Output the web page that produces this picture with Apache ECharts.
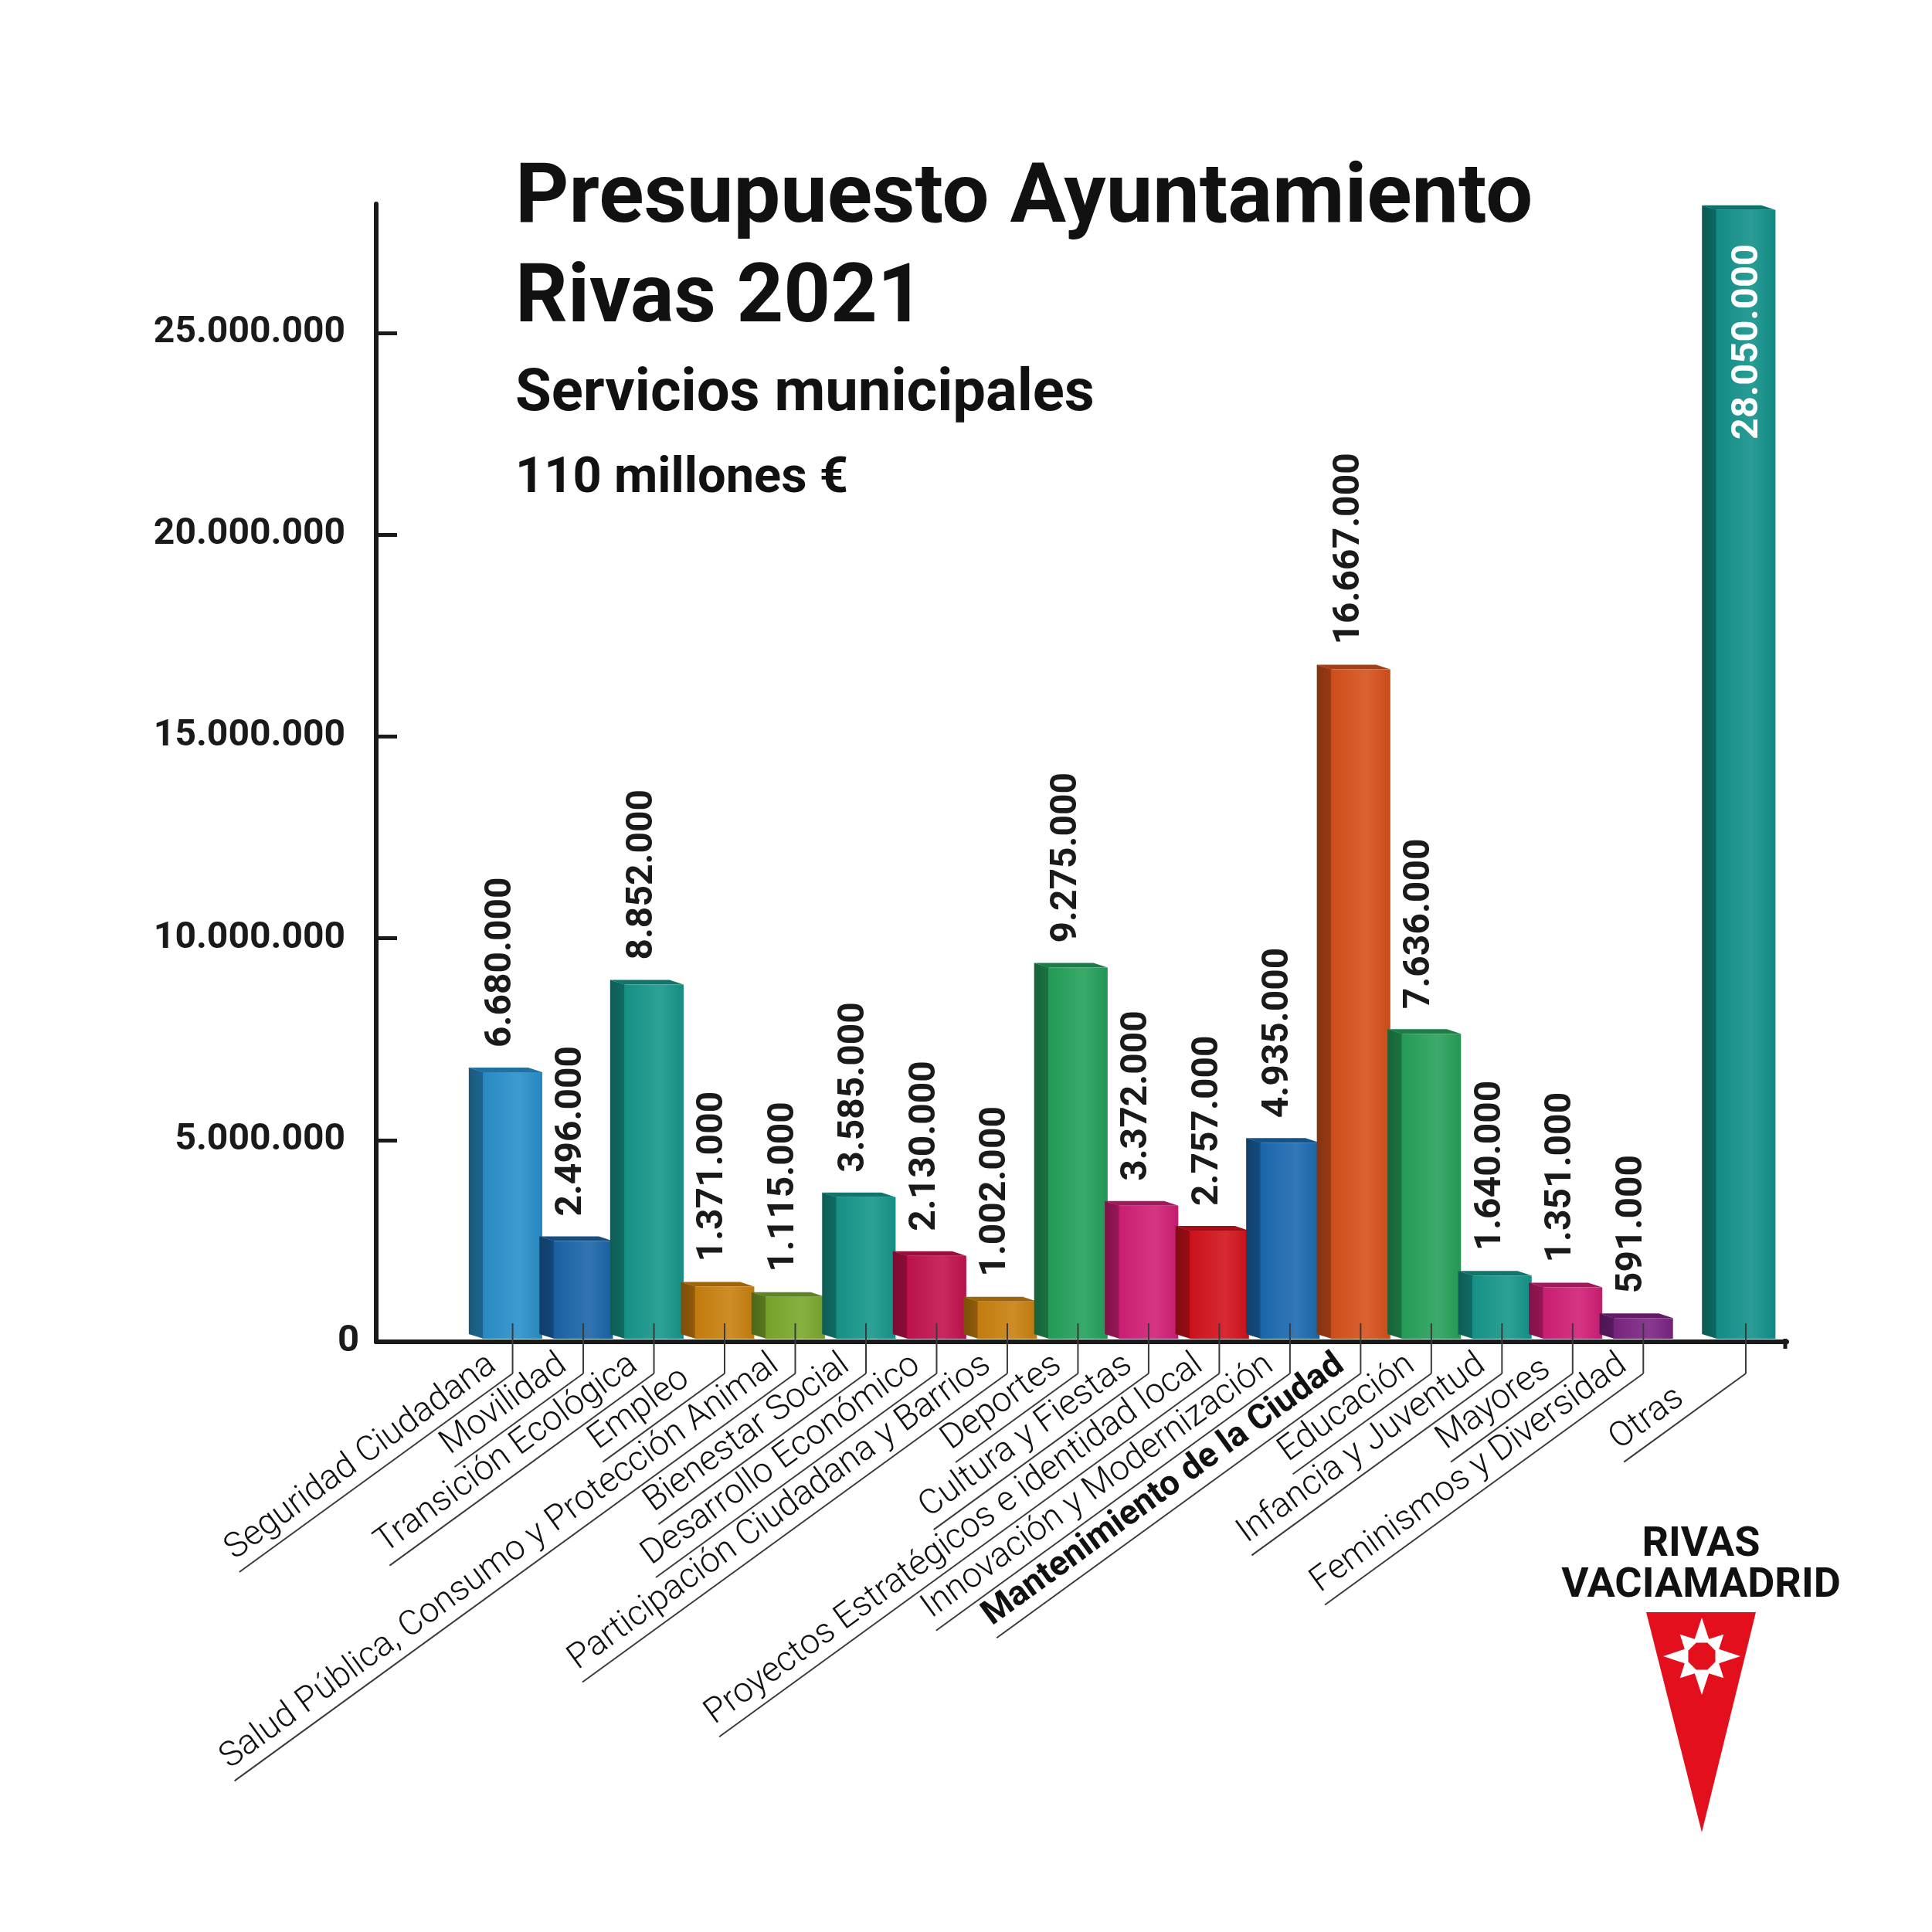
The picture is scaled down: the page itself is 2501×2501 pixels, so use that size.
<!DOCTYPE html>
<html>
<head>
<meta charset="utf-8">
<title>Presupuesto Ayuntamiento Rivas 2021</title>
<script src="https://cdn.jsdelivr.net/npm/echarts@6/dist/echarts.min.js"></script>
<style>
  html, body { margin: 0; padding: 0; background: #fff; }
  #chart { width: 2501px; height: 2501px; }
</style>
</head>
<body>
<div id="chart"></div>
<script>
// datos (euros)
var categories = [
  'Seguridad Ciudadana', 'Movilidad', 'Transición Ecológica', 'Empleo',
  'Salud Pública, Consumo y Protección Animal', 'Bienestar Social',
  'Desarrollo Económico', 'Participación Ciudadana y Barrios', 'Deportes',
  'Cultura y Fiestas', 'Proyectos Estratégicos e identidad local',
  'Innovación y Modernización', 'Mantenimiento de la Ciudad', 'Educación',
  'Infancia y Juventud', 'Mayores', 'Feminismos y Diversidad', 'Otras'
];
var values = [
  6680000, 2496000, 8852000, 1371000, 1115000, 3585000, 2130000, 1002000,
  9275000, 3372000, 2757000, 4935000, 16667000, 7636000, 1640000, 1351000,
  591000, 28050000
];
var yTicks = [0, 5000000, 10000000, 15000000, 20000000, 25000000];
var boldCategory = 'Mantenimiento de la Ciudad';

// estilos
var colors = [
  '#2a8fca', '#1a64a8', '#16968a', '#c9800f', '#7aa82c', '#16968a',
  '#c2124e', '#c9800f', '#23a05a', '#d11e76', '#d3121c', '#1b69b0',
  '#d6501a', '#27a05a', '#16968a', '#d11e76', '#7c2482', '#12918a'
];
var FONT = 'Roboto, "Noto Sans", sans-serif';
var LABEL_ANGLE = 36 * Math.PI / 180;
var GAP_LAST = 0.45;   // hueco extra antes de "Otras"

var measureCtx = document.createElement('canvas').getContext('2d');

function fmt(v) {
  return String(v).replace(/\B(?=(\d{3})+(?!\d))/g, '.');
}

function shade(hex, p) { // p<0 oscurece, p>0 aclara
  var n = parseInt(hex.slice(1), 16);
  var r = n >> 16, g = (n >> 8) & 255, b = n & 255;
  var t = p < 0 ? 0 : 255, k = Math.abs(p);
  r = Math.round(r + (t - r) * k);
  g = Math.round(g + (t - g) * k);
  b = Math.round(b + (t - b) * k);
  return 'rgb(' + r + ',' + g + ',' + b + ')';
}

var maxIdx = values.indexOf(Math.max.apply(null, values));
var barData = values.map(function (v, i) {
  return [i === values.length - 1 ? i + GAP_LAST : i, v];
});

function renderBar(params, api) {
  var i = params.dataIndex;
  var v = api.value(1);
  var base = api.coord([api.value(0), 0]);
  var top = api.coord([api.value(0), v]);
  var band = api.size([1, 0])[0];
  var fw = band * 0.84, dx = band * 0.2, dy = 6;
  var cx = base[0], yb = base[1] - 4, yt = top[1];
  var x0 = cx - fw / 2, x1 = cx + fw / 2;
  var c = colors[i];
  var kids = [];

  // cara lateral
  kids.push({
    type: 'polygon',
    shape: { points: [[x0 + 1, yt], [x0 + 1, yb], [x0 - dx, yb - dy], [x0 - dx, yt - dy]] },
    style: { fill: new echarts.graphic.LinearGradient(0, 0, 1, 0, [
      { offset: 0, color: shade(c, -0.38) }, { offset: 1, color: shade(c, -0.28) }]) }
  });
  // cara superior
  kids.push({
    type: 'polygon',
    shape: { points: [[x0, yt], [x1, yt], [x1 - dx, yt - dy], [x0 - dx, yt - dy]] },
    style: { fill: shade(c, -0.22) }
  });
  // frente
  kids.push({
    type: 'rect',
    shape: { x: x0, y: yt, width: fw, height: yb - yt },
    style: { fill: new echarts.graphic.LinearGradient(0, 0, 1, 0, [
      { offset: 0, color: shade(c, -0.04) },
      { offset: 0.6, color: shade(c, 0.1) },
      { offset: 1, color: shade(c, -0.06) }]) }
  });

  // valor
  var lbl = fmt(v);
  if (i === maxIdx) {
    kids.push({
      type: 'text', x: cx + 3, y: yt + 44, rotation: Math.PI / 2,
      style: { text: lbl, fill: '#fff', fontSize: 49, fontWeight: 'bold', fontFamily: FONT,
               align: 'right', verticalAlign: 'middle' }
    });
  } else {
    kids.push({
      type: 'text', x: cx - band * 0.16, y: yt - dy - 26, rotation: Math.PI / 2,
      style: { text: lbl, fill: '#1a1a1a', fontSize: 48, fontWeight: 'bold', fontFamily: FONT,
               align: 'left', verticalAlign: 'middle' }
    });
  }

  // guia y etiqueta de categoria
  var name = categories[i];
  var bold = name === boldCategory;
  var fWeight = bold ? 'bold' : '300';
  var fSize = bold ? 45 : 45;
  measureCtx.font = fWeight + ' ' + fSize + 'px ' + FONT;
  var tw = measureCtx.measureText(name).width;
  var L = Math.max(tw + 16, 195);
  var yc = base[1] + 41;
  kids.push({
    type: 'line',
    shape: { x1: cx, y1: base[1] - 24, x2: cx, y2: yc },
    style: { stroke: '#3a3a3a', lineWidth: 2 }
  });
  kids.push({
    type: 'group', x: cx, y: yc, rotation: LABEL_ANGLE,
    children: [
      { type: 'line', shape: { x1: 0, y1: 0, x2: -L, y2: 0 }, style: { stroke: '#3a3a3a', lineWidth: 2 } },
      { type: 'text', x: -L + 4, y: -5,
        style: { text: name, fill: '#111', fontSize: fSize, fontWeight: fWeight, fontFamily: FONT,
                 align: 'left', verticalAlign: 'bottom' } }
    ]
  });

  return { type: 'group', children: kids };
}

// estrella del logo
function starPoints(cx, cy) {
  var pts = [];
  for (var k = 0; k < 16; k++) {
    var a = -Math.PI / 2 + k * Math.PI / 8;
    var r = k % 2 ? 24 : (k % 4 === 0 ? 50 : 40);
    pts.push([cx + r * Math.cos(a), cy + r * Math.sin(a)]);
  }
  return pts;
}
function octagon(cx, cy, r) {
  var pts = [];
  for (var k = 0; k < 8; k++) {
    var a = Math.PI / 8 + k * Math.PI / 4;
    pts.push([cx + r * Math.cos(a), cy + r * Math.sin(a)]);
  }
  return pts;
}

var chart = echarts.init(document.getElementById('chart'), null, { renderer: 'canvas' });

var option = {
  backgroundColor: '#ffffff',
  animation: false,
  grid: { left: 487, right: 188, top: 264, bottom: 764 },
  xAxis: {
    type: 'value', min: -1.93, max: 18.03,
    axisLine: { show: true, onZero: false, lineStyle: { color: '#1a1a1a', width: 6 } },
    axisTick: { show: false }, axisLabel: { show: false }, splitLine: { show: false }
  },
  yAxis: {
    type: 'value', min: 0, max: 28200000, interval: 5000000,
    axisLine: { show: true, onZero: false, lineStyle: { color: '#1a1a1a', width: 6 } },
    axisTick: { show: true, inside: true, length: 27, customValues: yTicks,
                lineStyle: { color: '#1a1a1a', width: 5 } },
    axisLabel: {
      customValues: yTicks, margin: 22,
      formatter: function (v) { return v === 0 ? '{z|0}' : '{n|' + fmt(v) + '}'; },
      rich: {
        n: { fontSize: 48, fontWeight: 'bold', fontFamily: FONT, color: '#1a1a1a', padding: [0, 18, 0, 0] },
        z: { fontSize: 49, fontWeight: 'bold', fontFamily: FONT, color: '#1a1a1a' }
      }
    },
    splitLine: { show: false }
  },
  series: [{
    type: 'custom',
    renderItem: renderBar,
    data: barData,
    encode: { x: 0, y: 1 },
    clip: false,
    z: 3
  }],
  graphic: [
    { type: 'text', left: 667, top: 206,
      style: { text: 'Presupuesto Ayuntamiento', fontSize: 108, fontWeight: 'bold', fontFamily: FONT, fill: '#111' } },
    { type: 'text', left: 667, top: 336,
      style: { text: 'Rivas 2021', fontSize: 106, fontWeight: 'bold', fontFamily: FONT, fill: '#111' } },
    { type: 'text', left: 667, top: 474,
      style: { text: 'Servicios municipales', fontSize: 76, fontWeight: 'bold', fontFamily: FONT, fill: '#111' } },
    { type: 'text', left: 667, top: 588,
      style: { text: '110 millones €', fontSize: 65, fontWeight: 'bold', fontFamily: FONT, fill: '#111' } },
    // logo
    { type: 'text', x: 2202, y: 2000,
      style: { text: 'RIVAS', fontSize: 54, fontWeight: 'bold', fontFamily: FONT, fill: '#111',
               align: 'center', verticalAlign: 'middle' } },
    { type: 'text', x: 2202, y: 2053,
      style: { text: 'VACIAMADRID', fontSize: 54, fontWeight: 'bold', fontFamily: FONT, fill: '#111',
               align: 'center', verticalAlign: 'middle' } },
    { type: 'polygon', shape: { points: [[2131, 2087], [2273, 2087], [2203, 2372]] },
      style: { fill: '#e30f1c' } },
    { type: 'polygon', shape: { points: starPoints(2203, 2144) }, style: { fill: '#ffffff' } },
    { type: 'polygon', shape: { points: octagon(2203, 2144, 19) }, style: { fill: '#e30f1c' } },
    // remate del eje x
    { type: 'line', shape: { x1: 2311, y1: 1733, x2: 2311, y2: 1746 }, style: { stroke: '#1a1a1a', lineWidth: 5 } }
  ]
};

chart.setOption(option);
</script>
</body>
</html>
